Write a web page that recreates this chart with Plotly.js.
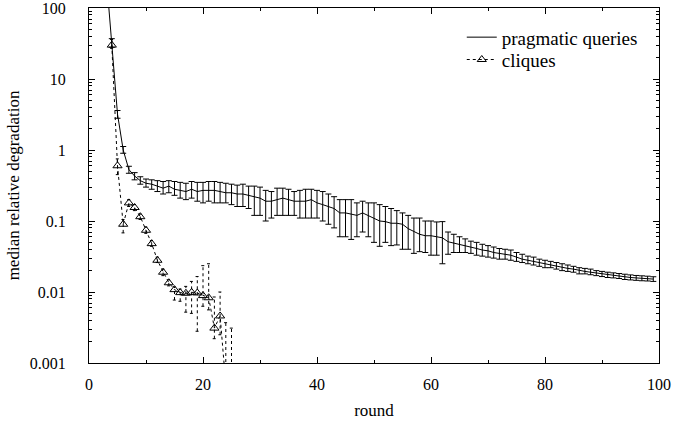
<!DOCTYPE html>
<html>
<head>
<meta charset="utf-8">
<script src="https://cdn.plot.ly/plotly-3.0.1.min.js"></script>
<style>html,body{margin:0;padding:0;background:#fff;}#chart{width:673px;height:424px;}</style>
</head>
<body>
<div id="chart"></div>
<script>
// ---- data ----
const pragRounds = [3,4,5,6,7,8,9,10,11,12,13,14,15,16,17,18,19,20,21,22,23,24,25,26,27,28,29,30,31,32,33,34,35,36,37,38,39,40,41,42,43,44,45,46,47,48,49,50,51,52,53,54,55,56,57,58,59,60,61,62,63,64,65,66,67,68,69,70,71,72,73,74,75,76,77,78,79,80,81,82,83,84,85,86,87,88,89,90,91,92,93,94,95,96,97,98,99];
const pragMedian = [300,33,3.2,1.0,0.53,0.43,0.37,0.34,0.33,0.31,0.29,0.31,0.28,0.27,0.26,0.28,0.26,0.27,0.27,0.27,0.26,0.25,0.25,0.24,0.24,0.23,0.22,0.21,0.19,0.19,0.20,0.21,0.20,0.19,0.19,0.19,0.20,0.18,0.17,0.16,0.15,0.13,0.13,0.125,0.12,0.13,0.12,0.11,0.10,0.098,0.093,0.093,0.09,0.078,0.072,0.065,0.062,0.062,0.060,0.058,0.051,0.049,0.047,0.045,0.043,0.041,0.039,0.038,0.036,0.035,0.034,0.033,0.031,0.029,0.028,0.027,0.026,0.025,0.024,0.023,0.022,0.0215,0.021,0.020,0.0195,0.019,0.0185,0.018,0.0175,0.017,0.0167,0.0164,0.016,0.0158,0.0156,0.0154,0.0152];
const pragLow = [300,28,2.8,0.9,0.47,0.38,0.33,0.30,0.28,0.26,0.24,0.25,0.23,0.21,0.20,0.21,0.19,0.18,0.19,0.18,0.18,0.18,0.17,0.16,0.16,0.15,0.12,0.12,0.10,0.11,0.12,0.12,0.12,0.12,0.11,0.11,0.11,0.11,0.10,0.09,0.08,0.06,0.06,0.055,0.06,0.07,0.06,0.05,0.044,0.05,0.045,0.046,0.04,0.04,0.035,0.037,0.036,0.033,0.033,0.025,0.034,0.036,0.036,0.036,0.035,0.033,0.032,0.031,0.030,0.029,0.029,0.028,0.027,0.026,0.025,0.024,0.023,0.022,0.022,0.021,0.020,0.0195,0.019,0.018,0.018,0.0175,0.017,0.0165,0.016,0.0158,0.0155,0.015,0.0148,0.0146,0.0144,0.0143,0.0141];
const pragHigh = [300,37,3.6,1.12,0.59,0.48,0.42,0.39,0.38,0.37,0.36,0.37,0.36,0.35,0.34,0.36,0.35,0.35,0.36,0.36,0.35,0.34,0.33,0.32,0.33,0.31,0.31,0.30,0.27,0.26,0.29,0.29,0.28,0.26,0.27,0.28,0.28,0.27,0.26,0.24,0.22,0.20,0.20,0.20,0.18,0.19,0.18,0.18,0.17,0.16,0.15,0.14,0.13,0.12,0.11,0.11,0.10,0.10,0.097,0.098,0.07,0.065,0.06,0.056,0.052,0.05,0.047,0.045,0.043,0.041,0.040,0.039,0.036,0.034,0.032,0.031,0.029,0.028,0.027,0.026,0.025,0.024,0.023,0.022,0.0215,0.021,0.020,0.0195,0.019,0.0186,0.0182,0.0178,0.0174,0.0171,0.0169,0.0167,0.0164];

const cliqRounds = [4,5,6,7,8,9,10,11,12,13,14,15,16,17,18,19,20,21,22,23,24,25];
const cliqMedian = [30,0.6,0.09,0.18,0.155,0.115,0.074,0.048,0.028,0.019,0.0135,0.0108,0.0098,0.0096,0.0099,0.0097,0.0089,0.0083,0.0031,0.0046,0.0005,0.0003];
const cliqLow = [27,0.45,0.068,0.16,0.14,0.105,0.067,0.044,0.026,0.017,0.0122,0.0077,0.0074,0.0052,0.005,0.0028,0.0063,0.0056,0.0022,0.0025,0.0001,0.0001];
const cliqHigh = [36,0.75,0.105,0.2,0.17,0.125,0.082,0.053,0.031,0.021,0.0148,0.0118,0.011,0.012,0.0141,0.0165,0.0235,0.025,0.0085,0.0100,0.0037,0.0031];

const yTickVals = [0.001,0.01,0.1,1,10,100];
const yTickText = ['0.001','0.01','0.1','1','10','100'];
const xTickVals = [0,20,40,60,80,100];
const seriesNames = ['pragmatic queries','cliques'];

// ---- build traces ----
const FONT = 'Liberation Serif, Times New Roman, serif';
const pragTrace = {
  x: pragRounds, y: pragMedian, type: 'scatter', mode: 'lines', name: seriesNames[0],
  legend: 'legend',
  line: {color: '#000', width: 1},
  error_y: {type: 'data', symmetric: false,
    array: pragMedian.map((v,i) => pragHigh[i] - v),
    arrayminus: pragMedian.map((v,i) => v - pragLow[i]),
    color: '#000', thickness: 1, width: 3}
};
// dashed error bars for cliques
const bx = [], by = [];
const cap = 0.3;
cliqRounds.forEach((r,i) => {
  bx.push(r, r, null); by.push(cliqLow[i], cliqHigh[i], null);
  bx.push(r-cap, r+cap, null); by.push(cliqLow[i], cliqLow[i], null);
  bx.push(r-cap, r+cap, null); by.push(cliqHigh[i], cliqHigh[i], null);
});
const cliqBars = {x: bx, y: by, type: 'scatter', mode: 'lines', showlegend: false, hoverinfo: 'skip',
  line: {color: '#000', width: 1, dash: '3px,3px'}};
const cliqTrace = {
  x: cliqRounds, y: cliqMedian, type: 'scatter', mode: 'lines+markers', name: seriesNames[1],
  legend: 'legend2',
  line: {color: '#000', width: 1, dash: '3px,3px'},
  marker: {symbol: 'triangle-up-open', size: 8, color: '#000', line: {width: 1, color: '#000'}}
};

const legendFont = {family: FONT, size: 19, color: '#000'};
const layout = {
  width: 673, height: 424,
  margin: {l: 89, r: 14, t: 8, b: 61},
  paper_bgcolor: '#fff', plot_bgcolor: '#fff',
  font: {family: FONT, size: 16, color: '#000'},
  showlegend: true,
  legend: {x: 0.654, y: 0.971, xanchor: 'left', yanchor: 'top', bgcolor: 'rgba(0,0,0,0)', font: legendFont},
  legend2: {x: 0.654, y: 0.908, xanchor: 'left', yanchor: 'top', bgcolor: 'rgba(0,0,0,0)', font: legendFont},
  xaxis: {range: [0, 100], tickvals: xTickVals, ticks: 'inside', ticklen: 6, tickcolor: '#000',
    showline: true, linecolor: '#000', linewidth: 1, mirror: 'allticks', showgrid: false, zeroline: false,
    minor: {dtick: 10, tick0: 0, ticks: 'inside', ticklen: 3, tickcolor: '#000', showgrid: false},
    ticklabelstandoff: 7, ticklabeloverflow: 'allow',
    title: {text: 'round', font: {family: FONT, size: 17}, standoff: 11},
    tickfont: {family: FONT, size: 16}},
  yaxis: {type: 'log', range: [-3, 2], tickvals: yTickVals, ticktext: yTickText,
    ticks: 'inside', ticklen: 6, tickcolor: '#000',
    showline: true, linecolor: '#000', linewidth: 1, mirror: 'allticks', showgrid: false, zeroline: false,
    minor: {dtick: 'D1', ticks: 'inside', ticklen: 3, tickcolor: '#000', showgrid: false},
    ticklabelstandoff: 19, ticklabeloverflow: 'allow',
    title: {text: 'median relative degradation', font: {family: FONT, size: 17}, standoff: 5},
    tickfont: {family: FONT, size: 16}}
};

Plotly.newPlot('chart', [pragTrace, cliqBars, cliqTrace], layout, {displayModeBar: false, staticPlot: true});
</script>
</body>
</html>
